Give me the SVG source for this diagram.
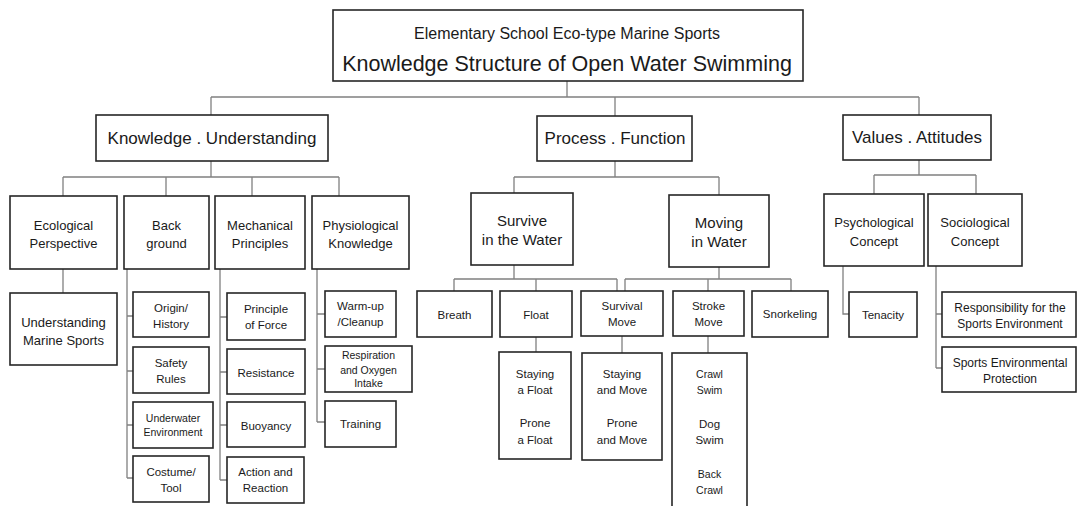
<svg xmlns="http://www.w3.org/2000/svg" width="1077" height="506" viewBox="0 0 1077 506">
<style>
.box{fill:#fff;stroke:#262626;stroke-width:1.6}
.ln{fill:none;stroke:#808080;stroke-width:1.3}
text{font-family:"Liberation Sans",Arial,sans-serif;fill:#1a1a1a;text-anchor:middle}
.t1{font-size:16px}
.t2{font-size:21.5px}
.h2{font-size:17px}
.h3{font-size:13px}
.h3b{font-size:15px}
.h4{font-size:11.5px}
.h5{font-size:10.5px}
.h6{font-size:12px}
</style>
<rect width="1077" height="506" fill="#fff"/>
<g id="connectors">
<path class="ln" d="M567 81V97M211 97H919M211 97V115M615 97V116M919 97V115"/>
<path class="ln" d="M211 161V177M63 177H339M63 177V196M166 177V196M252 177V196M339 177V196"/>
<path class="ln" d="M63 269V293"/>
<path class="ln" d="M127 269V478M127 316H133M127 371H133M127 425H133M127 478H133"/>
<path class="ln" d="M220 269V480M220 317H227M220 372H227M220 425H227M220 480H227"/>
<path class="ln" d="M317 269V422M317 314H325M317 369H325M317 422H325"/>
<path class="ln" d="M615 161V177M514 177H719M514 177V193M719 177V195"/>
<path class="ln" d="M514 265V279M454 279H617M454 279V291M536 279V291M617 279V291"/>
<path class="ln" d="M719 267V279M625 279H791M625 279V291M708 279V291M791 279V291"/>
<path class="ln" d="M536 337V352M622 336V353M708 336V353"/>
<path class="ln" d="M919 160V175M874 175H976M874 175V194M976 175V194"/>
<path class="ln" d="M843 266V314H849"/>
<path class="ln" d="M936 266V368M936 314H942M936 368H942"/>
</g>
<g id="root"><rect class="box" x="333" y="10" width="470" height="71"/>
<text class="t1" x="567" y="39">Elementary School Eco-type Marine Sports</text>
<text class="t2" x="567" y="71">Knowledge Structure of Open Water Swimming</text></g>
<g id="ku"><rect class="box" x="96" y="115" width="232" height="46"/><text class="h2" x="212" y="144">Knowledge . Understanding</text></g>
<g id="pf"><rect class="box" x="537" y="116" width="155" height="45"/><text class="h2" x="615" y="144">Process . Function</text></g>
<g id="va"><rect class="box" x="843" y="115" width="148" height="45"/><text class="h2" x="917" y="143">Values . Attitudes</text></g>

<g id="eco"><rect class="box" x="10" y="196" width="107" height="73"/><text class="h3" x="63.5" y="229.5">Ecological</text><text class="h3" x="63.5" y="247.5">Perspective</text></g>
<g id="bg"><rect class="box" x="124" y="196" width="85" height="73"/><text class="h3" x="166.5" y="229.5">Back</text><text class="h3" x="166.5" y="247.5">ground</text></g>
<g id="mech"><rect class="box" x="215" y="196" width="90" height="73"/><text class="h3" x="260" y="229.5">Mechanical</text><text class="h3" x="260" y="247.5">Principles</text></g>
<g id="phys"><rect class="box" x="312" y="196" width="97" height="73"/><text class="h3" x="360.5" y="229.5">Physiological</text><text class="h3" x="360.5" y="247.5">Knowledge</text></g>
<g id="ums"><rect class="box" x="10" y="293" width="107" height="72"/><text class="h3" x="63.5" y="326.5">Understanding</text><text class="h3" x="63.5" y="344.5">Marine Sports</text></g>

<g id="origin"><rect class="box" x="133" y="292" width="76" height="45"/><text class="h4" x="171" y="312">Origin/</text><text class="h4" x="171" y="328">History</text></g>
<g id="safety"><rect class="box" x="133" y="347" width="76" height="46"/><text class="h4" x="171" y="367">Safety</text><text class="h4" x="171" y="383">Rules</text></g>
<g id="underwater"><rect class="box" x="133" y="402" width="80" height="46"/><text class="h5" x="173" y="421.5">Underwater</text><text class="h5" x="173" y="436">Environment</text></g>
<g id="costume"><rect class="box" x="133" y="456" width="76" height="46"/><text class="h4" x="171" y="476">Costume/</text><text class="h4" x="171" y="491.5">Tool</text></g>

<g id="force"><rect class="box" x="227" y="293" width="78" height="47"/><text class="h4" x="266" y="313">Principle</text><text class="h4" x="266" y="329">of Force</text></g>
<g id="resistance"><rect class="box" x="227" y="349" width="78" height="45"/><text class="h4" x="266" y="376.5">Resistance</text></g>
<g id="buoyancy"><rect class="box" x="227" y="402" width="78" height="45"/><text class="h4" x="266" y="429.5">Buoyancy</text></g>
<g id="action"><rect class="box" x="227" y="457" width="77" height="46"/><text class="h4" x="265.5" y="476.3">Action and</text><text class="h4" x="265.5" y="492.3">Reaction</text></g>

<g id="warmup"><rect class="box" x="325" y="291" width="71" height="46"/><text class="h4" x="360.5" y="310">Warm-up</text><text class="h4" x="360.5" y="326.3">/Cleanup</text></g>
<g id="respiration"><rect class="box" x="325" y="346" width="87" height="46"/><text class="h5" x="368.5" y="358.7">Respiration</text><text class="h5" x="368.5" y="373.7">and Oxygen</text><text class="h5" x="368.5" y="387">Intake</text></g>
<g id="training"><rect class="box" x="325" y="401" width="71" height="46"/><text class="h4" x="360.5" y="428.3">Training</text></g>

<g id="survive"><rect class="box" x="471" y="193" width="102" height="72"/><text class="h3b" x="522" y="226">Survive</text><text class="h3b" x="522" y="245.3">in the Water</text></g>
<g id="moving"><rect class="box" x="669" y="195" width="100" height="72"/><text class="h3b" x="719" y="227.5">Moving</text><text class="h3b" x="719" y="247">in Water</text></g>

<g id="breath"><rect class="box" x="417" y="291" width="75" height="46"/><text class="h4" x="454.5" y="319">Breath</text></g>
<g id="float"><rect class="box" x="500" y="291" width="72" height="46"/><text class="h4" x="536" y="319">Float</text></g>
<g id="survival"><rect class="box" x="581" y="291" width="82" height="45"/><text class="h4" x="622" y="310">Survival</text><text class="h4" x="622" y="326.3">Move</text></g>
<g id="stroke"><rect class="box" x="673" y="291" width="71" height="45"/><text class="h4" x="708.5" y="310">Stroke</text><text class="h4" x="708.5" y="326.3">Move</text></g>
<g id="snorkel"><rect class="box" x="752" y="291" width="76" height="46"/><text class="h4" x="790" y="318.3">Snorkeling</text></g>

<g id="floatsub"><rect class="box" x="499" y="352" width="72" height="107"/><text class="h4" x="535" y="378">Staying</text><text class="h4" x="535" y="394">a Float</text><text class="h4" x="535" y="427">Prone</text><text class="h4" x="535" y="444">a Float</text></g>
<g id="survivalsub"><rect class="box" x="582" y="353" width="80" height="107"/><text class="h4" x="622" y="378">Staying</text><text class="h4" x="622" y="394">and Move</text><text class="h4" x="622" y="427">Prone</text><text class="h4" x="622" y="444">and Move</text></g>
<g id="strokesub"><rect class="box" x="672" y="353" width="75" height="160"/><text class="h5" x="709.5" y="377.7">Crawl</text><text class="h5" x="709.5" y="393.7">Swim</text><text class="h4" x="709.5" y="428">Dog</text><text class="h4" x="709.5" y="444">Swim</text><text class="h5" x="709.5" y="477.7">Back</text><text class="h5" x="709.5" y="493.7">Crawl</text></g>

<g id="psych"><rect class="box" x="824" y="194" width="100" height="72"/><text class="h3" x="874" y="227.2">Psychological</text><text class="h3" x="874" y="245.5">Concept</text></g>
<g id="socio"><rect class="box" x="928" y="194" width="94" height="72"/><text class="h3" x="975" y="227.2">Sociological</text><text class="h3" x="975" y="245.5">Concept</text></g>
<g id="tenacity"><rect class="box" x="849" y="292" width="68" height="45"/><text class="h4" x="883" y="319">Tenacity</text></g>
<g id="responsibility"><rect class="box" x="942" y="292" width="134" height="45"/><text class="h6" x="1010" y="312">Responsibility for the</text><text class="h6" x="1010" y="327.5">Sports Environment</text></g>
<g id="protection"><rect class="box" x="942" y="347" width="134" height="45"/><text class="h6" x="1010" y="366.5">Sports Environmental</text><text class="h6" x="1010" y="382.5">Protection</text></g>
</svg>
